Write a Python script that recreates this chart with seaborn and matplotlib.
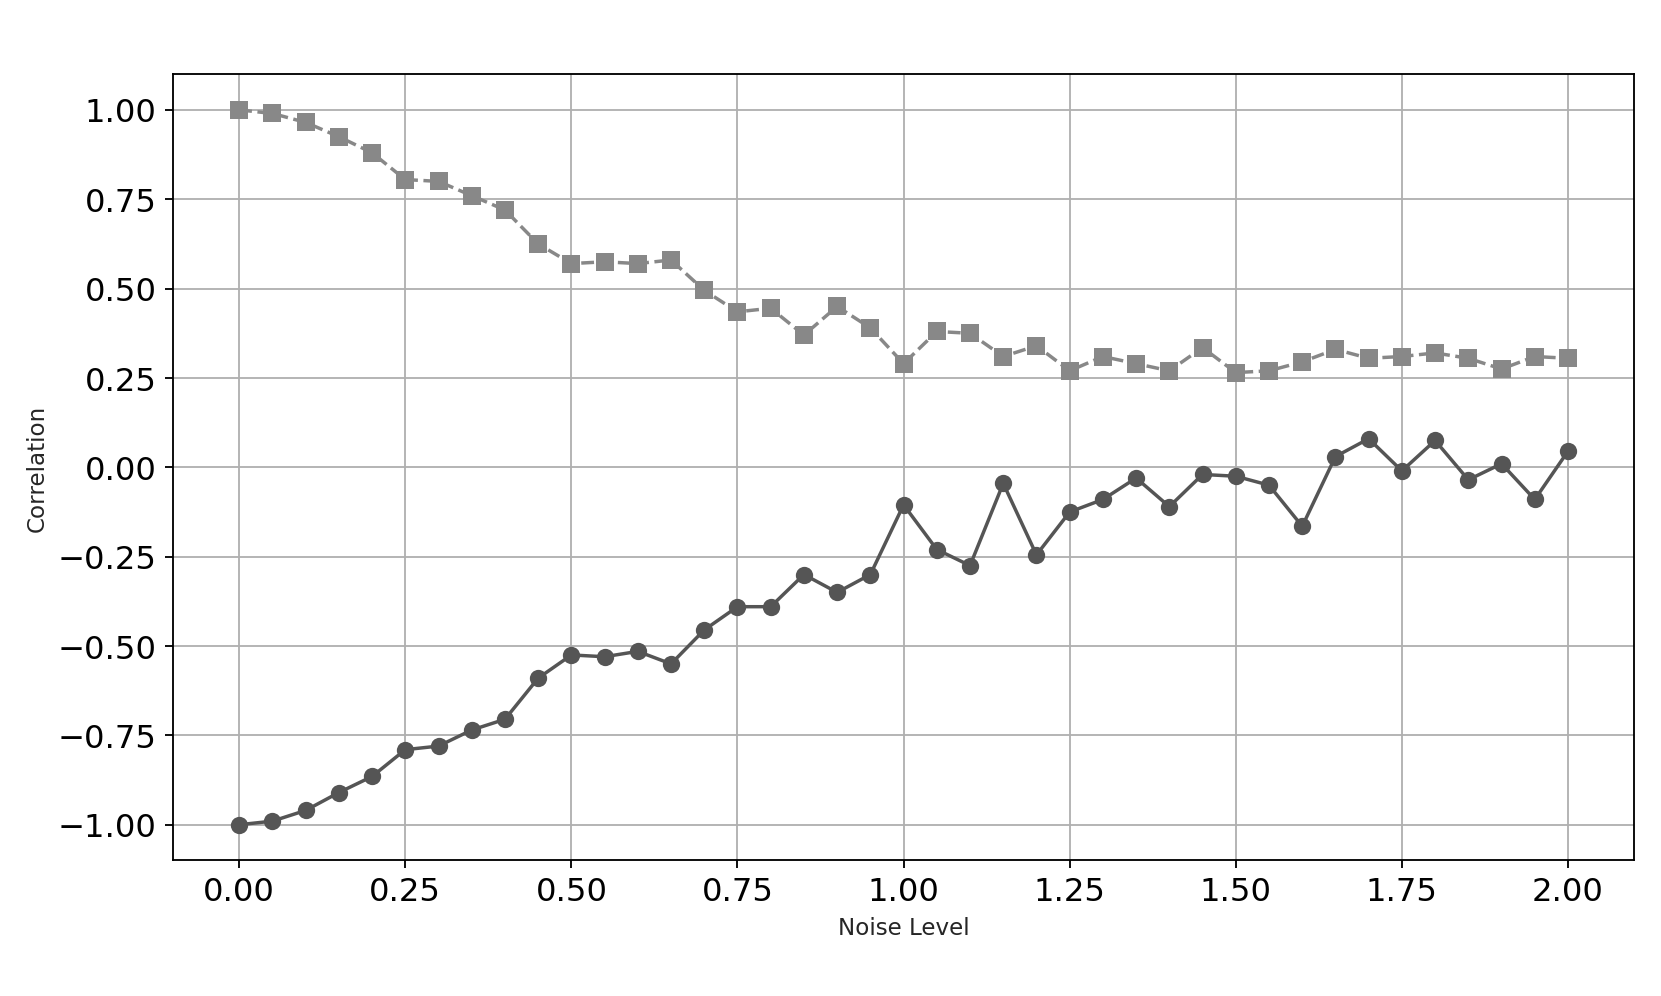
import numpy as np
import pandas as pd
import matplotlib
matplotlib.use("Agg")
import matplotlib.pyplot as plt
import seaborn as sns

# ── data ───────────────────────────────────────────────────────────────────────
noise = [0.00, 0.05, 0.10, 0.15, 0.20, 0.25, 0.30, 0.35, 0.40, 0.45,
         0.50, 0.55, 0.60, 0.65, 0.70, 0.75, 0.80, 0.85, 0.90, 0.95,
         1.00, 1.05, 1.10, 1.15, 1.20, 1.25, 1.30, 1.35, 1.40, 1.45,
         1.50, 1.55, 1.60, 1.65, 1.70, 1.75, 1.80, 1.85, 1.90, 1.95, 2.00]

corr_pos = [1.00, 0.99, 0.965, 0.925, 0.88, 0.805, 0.80, 0.76, 0.72, 0.625,
            0.57, 0.575, 0.57, 0.58, 0.495, 0.435, 0.445, 0.37, 0.45, 0.39,
            0.29, 0.38, 0.375, 0.31, 0.34, 0.27, 0.31, 0.29, 0.27, 0.335,
            0.265, 0.27, 0.295, 0.33, 0.305, 0.31, 0.32, 0.305, 0.275, 0.31, 0.305]

corr_neg = [-1.00, -0.99, -0.96, -0.91, -0.865, -0.79, -0.78, -0.735, -0.705, -0.59,
            -0.525, -0.53, -0.515, -0.55, -0.455, -0.39, -0.39, -0.30, -0.35, -0.30,
            -0.105, -0.23, -0.275, -0.045, -0.245, -0.125, -0.09, -0.03, -0.11, -0.02,
            -0.025, -0.05, -0.165, 0.03, 0.08, -0.01, 0.075, -0.035, 0.01, -0.09, 0.045]

yticks = [-1.00, -0.75, -0.50, -0.25, 0.00, 0.25, 0.50, 0.75, 1.00]
xticks = [0.00, 0.25, 0.50, 0.75, 1.00, 1.25, 1.50, 1.75, 2.00]

df = pd.DataFrame({"noise": noise, "pos": corr_pos, "neg": corr_neg})

# ── plot ───────────────────────────────────────────────────────────────────────
sns.set_style("ticks")
plt.rcParams["font.family"] = ["DejaVu Sans"]

fig, ax = plt.subplots(figsize=(10.0, 6.0), dpi=166.1)
fig.subplots_adjust(left=0.104, right=0.984, top=0.925, bottom=0.136)

sns.lineplot(data=df, x="noise", y="pos", ax=ax, color="#888888",
             marker="s", markersize=7.5, markeredgewidth=0, linestyle="--",
             linewidth=1.5, dashes=(4.5, 3))
sns.lineplot(data=df, x="noise", y="neg", ax=ax, color="#555555",
             marker="o", markersize=7.5, markeredgewidth=0, linewidth=1.5)

ax.set_xticks(xticks)
ax.set_yticks(yticks)
ax.set_xlim(-0.1, 2.1)
ax.set_ylim(-1.1, 1.1)
ax.tick_params(labelsize=14, colors="black", length=3.5, width=0.8)
ax.set_xlabel("Noise Level", fontsize=10)
ax.set_ylabel("Correlation", fontsize=10)
ax.grid(True, color="#b0b0b0", linewidth=0.8)
for sp in ax.spines.values():
    sp.set_color("black")
    sp.set_linewidth(0.8)

plt.savefig("out.png", dpi=166.1)
plt.close()
